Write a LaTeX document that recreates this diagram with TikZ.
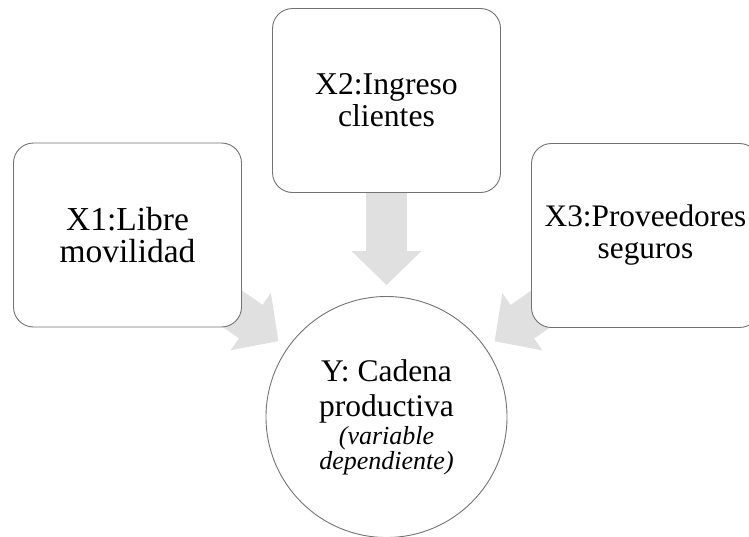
\documentclass[tikz,border=0pt]{standalone}
\usepackage{fontspec}
\setmainfont{Liberation Serif}
\usetikzlibrary{arrows.meta,backgrounds}

\newcommand{\cursiva}[1]{{\fontsize{26}{23}\selectfont\itshape #1}}

\tikzset{
  caja/.style={draw=black!55, line width=0.9pt, fill=white,
    rounded corners=20pt, minimum width=228pt, minimum height=184pt,
    align=center, font=\fontsize{33.5}{32}\selectfont},
  circulo/.style={draw=black!55, line width=0.9pt, fill=white, circle,
    minimum size=241pt, inner sep=0pt, align=center,
    font=\fontsize{31.5}{35}\selectfont},
  flecha/.style={color=black!12, line width=41pt,
    -{Triangle[width=68pt,length=34pt]}, shorten >=11pt}
}

\begin{document}
\begin{tikzpicture}[x=1pt,y=-1pt]
\useasboundingbox (0,0) rectangle (749,536);

% independent variables
\node [caja] (x1) at (127.5,235) {X1:Libre\\movilidad};
\node [caja, font=\fontsize{31.7}{32}\selectfont] (x2) at (386.5,100.5) {X2:Ingreso\\clientes};
\node [caja, font=\fontsize{31.3}{32}\selectfont] (x3) at (645.5,235.5) {X3:Proveedores\\seguros};

% dependent variable
\node [circulo] (y) at (386.5,417) {Y: Cadena\\productiva\\[-7pt]\cursiva{(variable}\\[-10pt]\cursiva{dependiente)}};

% arrows
\begin{scope}[on background layer]
\draw [flecha] (x1.center) -- (y);
\draw [flecha] (x2.center) -- (y);
\draw [flecha] (x3.center) -- (y);
\end{scope}

\end{tikzpicture}
\end{document}
